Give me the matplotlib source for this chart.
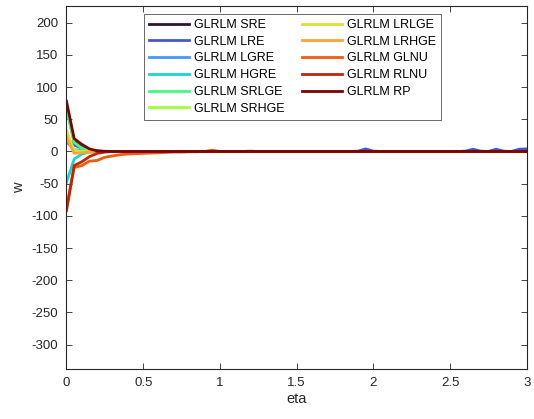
import numpy as np
import matplotlib
matplotlib.use("Agg")
import matplotlib.pyplot as plt

plt.rcParams['font.family'] = ['Liberation Sans', 'DejaVu Sans']
plt.rcParams['axes.unicode_minus'] = False

# eta grid, 0 to 3 in steps of 0.05
eta = np.linspace(0, 3, 61)

names = ['GLRLM SRE', 'GLRLM LRE', 'GLRLM LGRE', 'GLRLM HGRE', 'GLRLM SRLGE',
         'GLRLM SRHGE', 'GLRLM LRLGE', 'GLRLM LRHGE', 'GLRLM GLNU', 'GLRLM RLNU',
         'GLRLM RP']

w_sre = [70, 15, 6, 2, 0.5, 0, 0, 0, 0, 0, 0, 0, 0, 0, 0, 0, 0, 0, 0, 0,
         0, 0, 0, 0, 0, 0, 0, 0, 0, 0, 0, 0, 0, 0, 0, 0, 0, 0, 0, 0,
         0, 0, 0, 0, 0, 0, 0, 0, 0, 0, 0, 0, 0, 0, 0, 0, 0, 0, 0, 0, 0]
w_lre = [22, 10, 5, 2, 0.5, 0, 0, 0, 0, 0, 0, 0, 0, 0, 0, 0, 0, 0, 0, 0,
         0, 0, 0, 0, 0.5, 0, 0, 0, 0, 0, 0, 0, 0, 0, 0, 0, 0, 0, 0.5, 4,
         0.5, 0, 0, 0, 0, 0, 0, 0, 0, 0, 0, 0, 0.5, 3.5, 0.5, 0, 3.5, 0.5, 0, 3.5, 4]
w_lgre = [15, 3, 1, 0.3, 0, 0, 0, 0, 0, 0, 0, 0, 0, 0, 0, 0, 0, 0, 0, 0,
          0, 0, 0, 0, 0, 0, 0, 0, 0, 0, 0, 0, 0, 0, 0, 0, 0, 0, 0, 0,
          0, 0, 0, 0, 0, 0, 0, 0, 0, 0, 0, 0, 0, 0, 0, 0, 0, 0, 0, 0, 0]
w_hgre = [-48, -12, -4, -1, 0, 0, 0, 0, 0, 0, 0, 0, 0, 0, 0, 0, 0, 0, 0, 0,
          0, 0, 0, 0, 0, 0, 0, 0, 0, 0, 0, 0, 0, 0, 0, 0, 0, 0, 0, 0,
          0, 0, 0, 0, 0, 0, 0, 0, 0, 0, 0, 0, 0, 0, 0, 0, 0, 0, 0, 0, 0]
w_srlge = [65, 14, 5, 1.5, 0.3, 0, 0, 0, 0, 0, 0, 0, 0, 0, 0, 0, 0, 0, 0, 0,
           0, 0, 0, 0, 0, 0, 0, 0, 0, 0, 0, 0, 0, 0, 0, 0, 0, 0, 0, 0,
           0, 0, 0, 0, 0, 0, 0, 0, 0, 0, 0, 0, 0, 0, 0, 0, 0, 0, 0, 0, 0]
w_srhge = [28, 2, 0, 0, 0, 0, 0, 0, 0, 0, 0, 0, 0, 0, 0, 0, 0, 0, 0, 0,
           0, 0, 0, 0, 0, 0, 0, 0, 0, 0, 0, 0, 0, 0, 0, 0, 0, 0, 0, 0,
           0, 0, 0, 0, 0, 0, 0, 0, 0, 0, 0, 0, 0, 0, 0, 0, 0, 0, 0, 0, 0]
w_lrlge = [33, 0, -1, -0.5, 0, 0, 0, 0, 0, 0, 0, 0, 0, 0, 0, 0, 0, 0, 0, 0,
           0, 0, 0, 0, 0, 0, 0, 0, 0, 0, 0, 0, 0, 0, 0, 0, 0, 0, 0, 0,
           0, 0, 0, 0, 0, 0, 0, 0, 0, 0, 0, 0, 0, 0, 0, 0, 0, 0, 0, 0, 0]
w_lrhge = [22, -3, -2, -1, 0, 0, 0, 0, 0, 0, 0, 0, 0, 0, 0, 0, 0, 0, 0, 0,
           0, 0, 0, 0, 0, 0, 0, 0, 0, 0, 0, 0, 0, 0, 0, 0, 0, 0, 0, 0,
           0, 0, 0, 0, 0, 0, 0, 0, 0, 0, 0, 0, 0, 0, 0, 0, 0, 0, 0, 0, 0]
w_glnu = [-88, -25, -22, -15, -14, -9, -7, -5, -4, -3.5, -3, -2.5, -2, -1.5, -1, -1, -0.5, -0.5, 0, 2,
          0, 0, 0, 0, 0, 0, 0, 0, 0, 0, 0, 0, 0, 0, 0, 0, 0, 0, 0, 0,
          0, 0, 0, 0, 0, 0, 0, 0, 0, 0, 0, 0, 0, 0, 0, 0, 0, 0, 0, 0, 0]
w_rlnu = [-92, -22, -16, -8, -3, -1, 0, 0, 0, 0, 0, 0, 0, 0, 0, 0, 0, 0, 0, 0,
          0, 0, 0, 0, 0, 0, 0, 0, 0, 0, 0, 0, 0, 0, 0, 0, 0, 0, 0, 0,
          0, 0, 0, 0, 0, 0, 0, 0, 0, 0, 0, 0, 0, 0, 0, 0, 0, 0, 0, 0, 0]
w_rp = [78, 20, 11, 4, 1, 0.3, 0, 0, 0, 0, 0, 0, 0, 0, 0, 0, 0, 0, 0, 0,
        0, 0, 0, 0, 0, 0, 0, 0, 0, 0, 0, 0, 0, 0, 0, 0, 0, 0, 0, 0,
        0, 0, 0, 0, 0, 0, 0, 0, 0, 0, 0, 0, 0, 0, 0, 0, 0, 0, 0, 0, 0]

series = [w_sre, w_lre, w_lgre, w_hgre, w_srlge, w_srhge,
          w_lrlge, w_lrhge, w_glnu, w_rlnu, w_rp]

colors = plt.get_cmap('turbo')(np.linspace(0, 1, len(series)))

fig = plt.figure(figsize=(5.34, 4.19), dpi=100)
ax = fig.add_axes([0.1245, 0.1193, 0.862, 0.8664])

for name, w, c in zip(names, series, colors):
    ax.plot(eta, w, color=c, linewidth=2, label=name)

ax.set_xlim(0, 3)
ax.set_ylim(-338, 226)
ax.set_yticks(np.arange(-300, 201, 50))
ax.set_xticks([0, 0.5, 1, 1.5, 2, 2.5, 3])
ax.set_xticklabels(['0', '0.5', '1', '1.5', '2', '2.5', '3'])

axcol = '#262626'
for s in ax.spines.values():
    s.set_color(axcol)
    s.set_linewidth(0.8)
ax.tick_params(direction='in', top=True, right=True, length=4, width=0.6,
               color=axcol, labelcolor=axcol, labelsize=9.5, pad=6)

ax.set_xlabel('eta', fontsize=10.5, color=axcol, labelpad=2)
ax.set_ylabel('w', fontsize=10.5, color=axcol, labelpad=4)

leg = ax.legend(ncol=2, loc='upper left', bbox_to_anchor=(0.168, 0.978),
                borderaxespad=0, fontsize=9, frameon=True, fancybox=False,
                handlelength=3.2, handletextpad=0.45, columnspacing=1.35,
                labelspacing=0.38, borderpad=0.4)
leg.get_frame().set_edgecolor('#262626')
leg.get_frame().set_linewidth(0.6)

fig.savefig('out.png', dpi=100)
